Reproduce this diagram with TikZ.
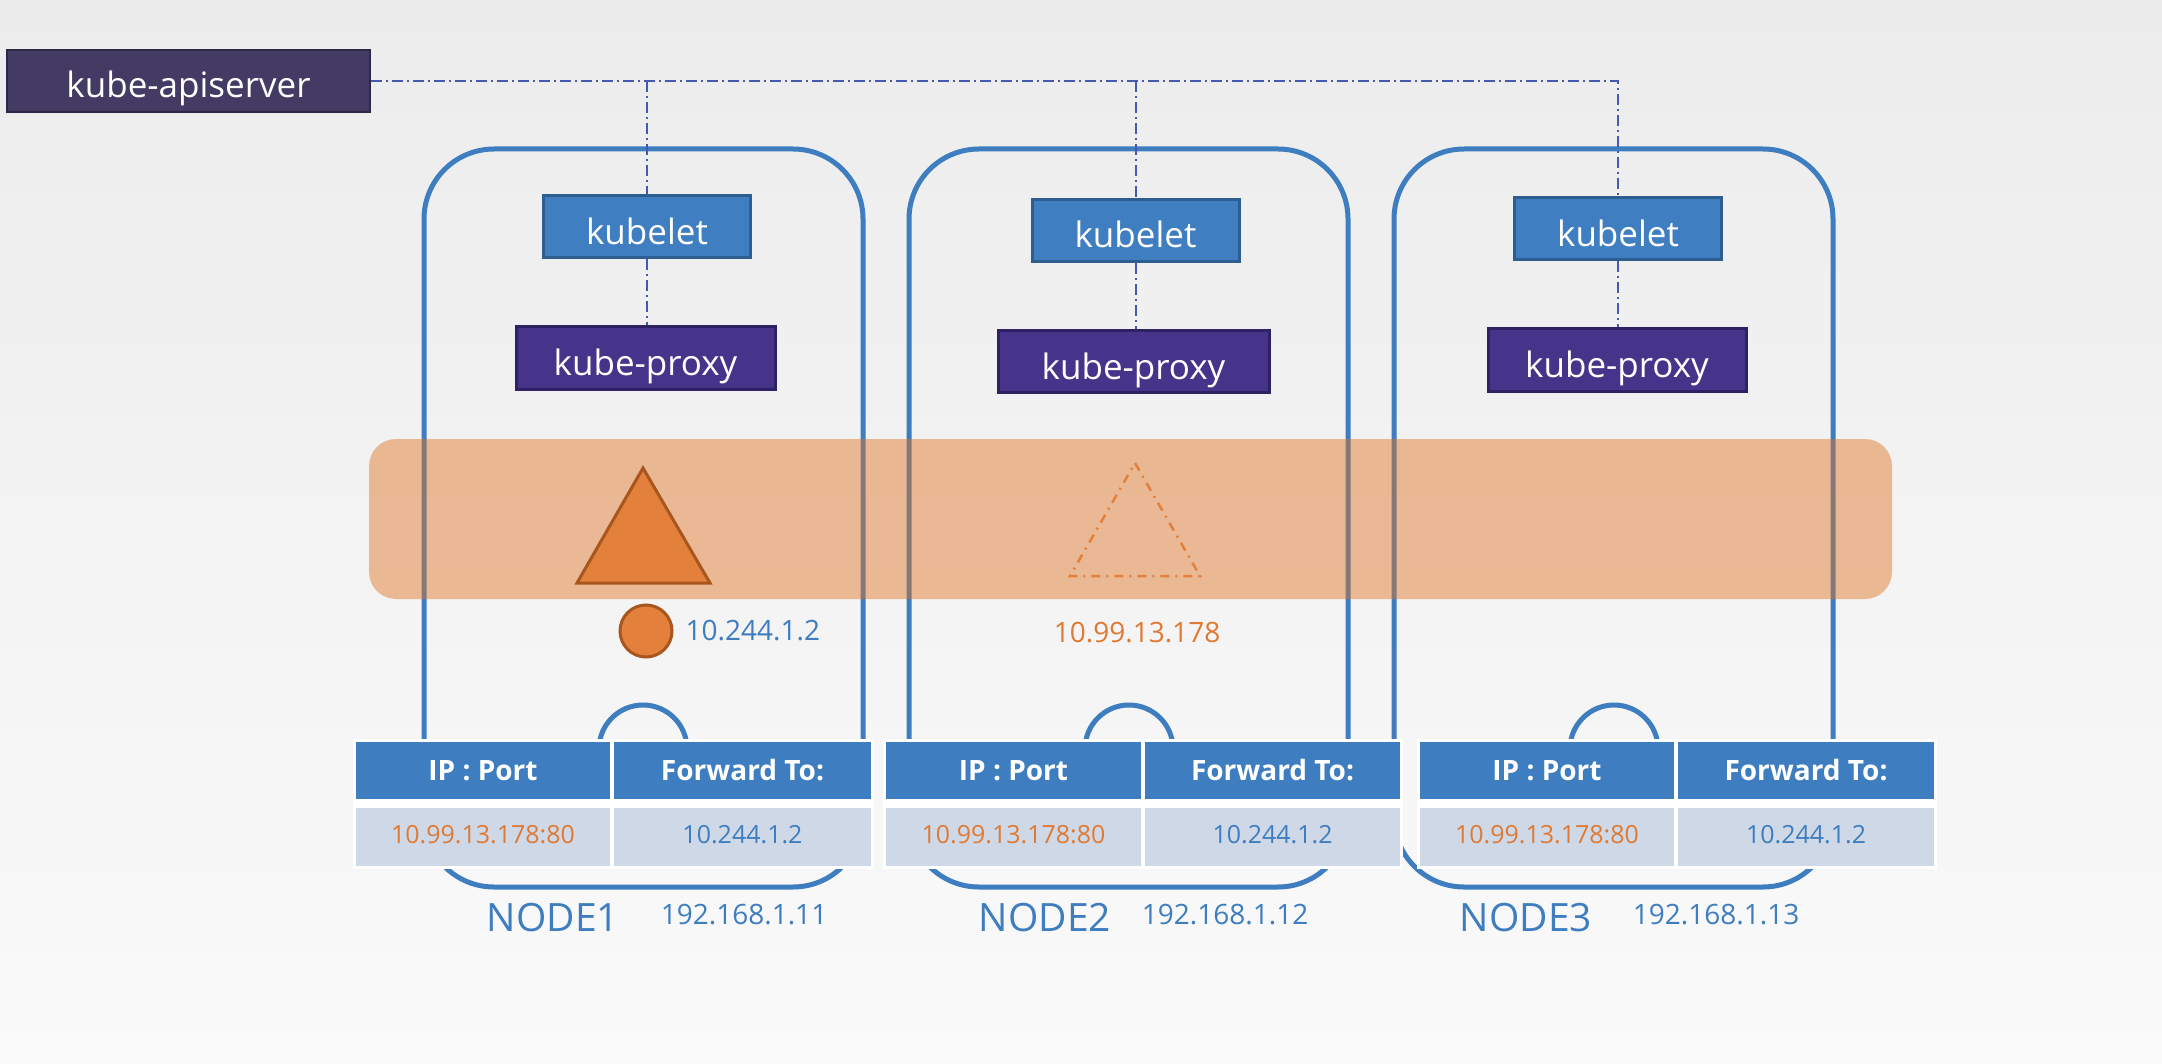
\documentclass[tikz,border=0pt]{standalone}
\usepackage{fontspec}
\setmainfont{Open Sans}
\definecolor{frameblue}{HTML}{3D7DC0}
\definecolor{kubeletfill}{HTML}{3E7EC1}
\definecolor{kubeletdraw}{HTML}{2E5E8F}
\definecolor{proxyfill}{HTML}{46338A}
\definecolor{proxydraw}{HTML}{2E2262}
\definecolor{apifill}{HTML}{433B63}
\definecolor{apidraw}{HTML}{2C2846}
\definecolor{linkcol}{HTML}{4559AE}
\definecolor{bandcol}{HTML}{E07424}
\definecolor{podfill}{HTML}{E2803C}
\definecolor{poddraw}{HTML}{A8561E}
\definecolor{txtorange}{HTML}{E07A33}
\definecolor{hdrblue}{HTML}{3E7EC0}
\definecolor{cellgray}{HTML}{CED8E6}
\definecolor{bgtop}{HTML}{ECECEC}
\definecolor{bgbot}{HTML}{FAFAFA}
\tikzset{
  frame/.style={draw=frameblue, line width=5pt, rounded corners=70pt, minimum width=439pt, minimum height=738pt, inner sep=0pt},
  boxtext/.style={text=white, font=\fontsize{35}{40}\selectfont, text height=35pt, text depth=0pt},
  kubeletbox/.style={boxtext, draw=kubeletdraw, fill=kubeletfill, line width=3pt, minimum width=207pt, minimum height=62pt, inner sep=0pt},
  proxybox/.style={boxtext, draw=proxydraw, fill=proxyfill, line width=3pt, minimum width=262pt, minimum height=62pt, inner sep=0pt},
  apibox/.style={boxtext, draw=apidraw, fill=apifill, line width=2pt, minimum width=363pt, minimum height=62pt, inner sep=0pt, text height=33pt},
  link/.style={draw=linkcol, line width=2pt, dash pattern=on 11pt off 4pt on 2pt off 4pt},
  port/.style={circle, draw=frameblue, line width=5pt, minimum size=88pt, inner sep=0pt},
  tablebg/.style={fill=white, inner sep=0pt, minimum height=130pt},
  hdr/.style={fill=hdrblue, text=white, inner sep=0pt, minimum height=57pt, font=\bfseries\fontsize{28}{32}\selectfont},
  cell/.style={fill=cellgray, inner sep=0pt, minimum height=58pt, font=\fontsize{25}{30}\selectfont, text height=18pt, text depth=6pt},
  nodename/.style={text=frameblue, font=\fontsize{39}{44}\selectfont, inner sep=0pt},
  nodeip/.style={text=frameblue, font=\fontsize{28}{32}\selectfont, inner sep=0pt},
  podtext/.style={font=\fontsize{28}{32}\selectfont, inner sep=0pt},
}
\begin{document}
\begin{tikzpicture}[x=1pt,y=-1pt]
\useasboundingbox (0,0) rectangle (2162,1064);
\shade[top color=bgtop, bottom color=bgbot] (0,0) rectangle (2162,1064);

% node frames
\node[frame] (fr1) at (643.5,518) {};
\node[frame] (fr2) at (1128.5,518) {};
\node[frame] (fr3) at (1613.5,518) {};

% api server and agents
\node[apibox] (api) at (188.5,81) {kube-apiserver};
\node[kubeletbox] (kl1) at (647,227) {kubelet};
\node[kubeletbox] (kl2) at (1135.5,230.5) {kubelet};
\node[kubeletbox] (kl3) at (1618,229) {kubelet};
\node[proxybox, minimum width=259pt] (kp1) at (645.5,358) {kube-proxy};
\node[proxybox, minimum width=271pt] (kp2) at (1133.5,361.5) {kube-proxy};
\node[proxybox, minimum width=258pt] (kp3) at (1617,360) {kube-proxy};

\draw[link] (api.east) -- (kl3.north |- api.east) -- (kl3.north);
\draw[link] (kl1.north |- api.east) -- (kl1.north);
\draw[link] (kl2.north |- api.east) -- (kl2.north);
\draw[link] (kl1.south) -- (kl1.south |- kp1.north);
\draw[link] (kl2.south) -- (kl2.south |- kp2.north);
\draw[link] (kl3.south) -- (kl3.south |- kp3.north);

% service band
\fill[bandcol, fill opacity=0.46, rounded corners=27pt] (369,439) rectangle (1892,599);

% pod and service
\draw[fill=podfill, draw=poddraw, line width=3pt, line join=miter] (643,468) -- (710,583) -- (577,583) -- cycle;
\node[circle, fill=podfill, draw=poddraw, line width=3pt, minimum size=52pt, inner sep=0pt] (pod) at (646,631) {};
\node[podtext, text=frameblue, anchor=west] (podip) at ([xshift=12pt]pod.east) {10.244.1.2};
\draw[draw=podfill, line width=2.5pt, dash pattern=on 9pt off 6pt on 2pt off 6pt] (1135,463) -- (1200,576) -- (1070,576) -- cycle;
\node[podtext, text=txtorange] (svcip) at (1137,633) {10.99.13.178};

% ports
\node[port] (pt1) at (643,749) {};
\node[port] (pt2) at (1129,749) {};
\node[port] (pt3) at (1614,749) {};

% tables
\foreach \i/\L/\S/\R in {1/353/612/874, 2/883/1143/1403, 3/1417/1676/1937}{
  \node[tablebg, minimum width={\R-\L}] (tb\i) at ({(\L+\R)/2},804) {};
  \node[hdr, minimum width={\S-\L-5}] (ha\i) at ({(\L+\S+1)/2},770.5) {IP : Port};
  \node[hdr, minimum width={\R-\S-5}] (hb\i) at ({(\S+\R-1)/2},770.5) {Forward To:};
  \node[cell, text=txtorange, minimum width={\S-\L-5}] (da\i) at ({(\L+\S+1)/2},837) {10.99.13.178:80};
  \node[cell, text=frameblue, minimum width={\R-\S-5}] (db\i) at ({(\S+\R-1)/2},837) {10.244.1.2};
}

% node labels
\node[nodename] (n1) at (553,918) {NODE1};
\node[nodeip] (ip1) at (744,915) {192.168.1.11};
\node[nodename] (n2) at (1045,918) {NODE2};
\node[nodeip] (ip2) at (1225,915) {192.168.1.12};
\node[nodename] (n3) at (1526,918) {NODE3};
\node[nodeip] (ip3) at (1716,915) {192.168.1.13};
\end{tikzpicture}
\end{document}
